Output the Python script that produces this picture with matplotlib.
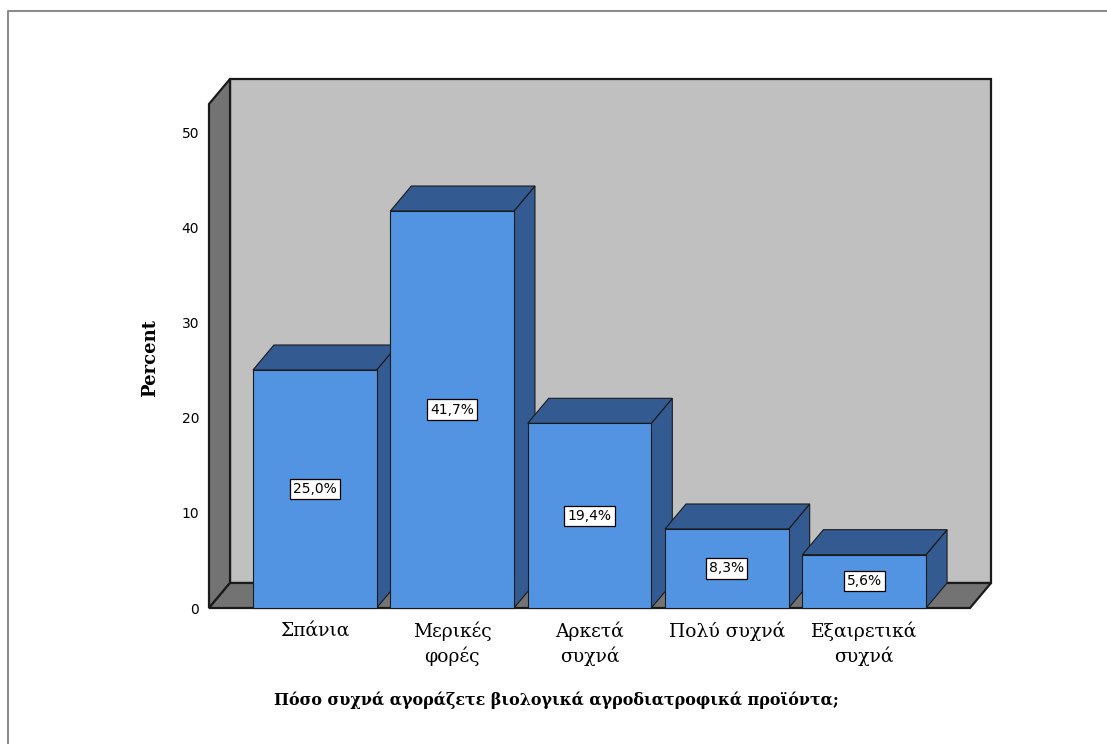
import numpy as np
import matplotlib.pyplot as plt
from matplotlib.patches import Polygon
from matplotlib.lines import Line2D

# Data
categories = ["Σπάνια", "Μερικές\nφορές", "Αρκετά\nσυχνά", "Πολύ συχνά", "Εξαιρετικά\nσυχνά"]
percent = [25.0, 41.7, 19.4, 8.3, 5.6]
yticks = [0, 10, 20, 30, 40, 50]
xlabel = "Πόσο συχνά αγοράζετε βιολογικά αγροδιατροφικά προϊόντα;"
ylabel = "Percent"

# Colours
FRONT = "#5294e2"
SHADE = "#345b91"
BACK_WALL = "#c0c0c0"
SIDE_WALL = "#737373"
EDGE = "#1a1a1a"

W, H = 1107, 744
fig = plt.figure(figsize=(W / 100, H / 100), dpi=100)

# front plane of the 3d box in pixels
left_px, right_px, base_px, top_px = 209, 970, 608, 104
ax = fig.add_axes([left_px / W, 1 - base_px / H,
                   (right_px - left_px) / W, (base_px - top_px) / H])
x0, x1 = -0.77, len(categories) - 1 + 0.77
ytop = 50 * (base_px - top_px) / (base_px - 132)
ax.set_xlim(x0, x1)
ax.set_ylim(0, ytop)

# depth offset (pixels -> data units)
px_x = (right_px - left_px) / (x1 - x0)
px_y = (base_px - top_px) / ytop
dx = 21 / px_x
dy = 25 / px_y

def poly(pts, fc, z, lw=1.0, ec=EDGE):
    ax.add_patch(Polygon(pts, closed=True, facecolor=fc, edgecolor=ec,
                         linewidth=lw, clip_on=False, zorder=z))

# walls
poly([(x0 + dx, dy), (x1 + dx, dy), (x1 + dx, ytop + dy), (x0 + dx, ytop + dy)], BACK_WALL, 1, lw=1.6)
poly([(x0, 0), (x0 + dx, dy), (x0 + dx, ytop + dy), (x0, ytop)], SIDE_WALL, 1, lw=1.6)
poly([(x0, 0), (x1, 0), (x1 + dx, dy), (x0 + dx, dy)], SIDE_WALL, 1, lw=1.6)

# bars, left to right so later bars cover earlier side faces
bw = 0.9
for i, v in enumerate(percent):
    l, r = i - bw / 2, i + bw / 2
    z = 2 + i
    poly([(r, 0), (r + dx, dy), (r + dx, v + dy), (r, v)], SHADE, z, lw=0.8)
    poly([(l, v), (r, v), (r + dx, v + dy), (l + dx, v + dy)], SHADE, z, lw=0.8)
    poly([(l, 0), (r, 0), (r, v), (l, v)], FRONT, z, lw=0.8)
    ax.text(i, v / 2, f"{v:.1f}%".replace(".", ","), ha="center", va="center",
            fontsize=10, family="DejaVu Sans", zorder=20,
            bbox=dict(boxstyle="square,pad=0.22", facecolor="white",
                      edgecolor="black", linewidth=0.9))

for s in ax.spines.values():
    s.set_visible(False)
ax.set_facecolor("none")
ax.set_yticks(yticks)
ax.set_yticklabels([str(t) for t in yticks], fontsize=10, family="DejaVu Sans")
ax.set_xticks(range(len(categories)))
ax.set_xticklabels(categories, fontsize=13.5, family="DejaVu Serif", linespacing=1.3)
ax.tick_params(axis="y", length=0, pad=7)
ax.tick_params(axis="x", length=0, pad=10)

ax.set_ylabel(ylabel, fontsize=13, family="DejaVu Serif", fontweight="bold")
ax.yaxis.set_label_coords((150 - left_px) / (right_px - left_px), 0.496)
ax.set_xlabel(xlabel, fontsize=11.4, family="DejaVu Serif", fontweight="bold")
ax.xaxis.set_label_coords((556 - left_px) / (right_px - left_px), (base_px - 700) / (base_px - top_px))
ax.xaxis.label.set_va("center")
ax.yaxis.label.set_va("center")

# outer frame
fig.add_artist(Line2D([8 / W, 8 / W, 1], [0, 1 - 11 / H, 1 - 11 / H],
                      transform=fig.transFigure, color="#8c8c8c", linewidth=1.5))

fig.savefig("out.png", dpi=100, facecolor="white")
